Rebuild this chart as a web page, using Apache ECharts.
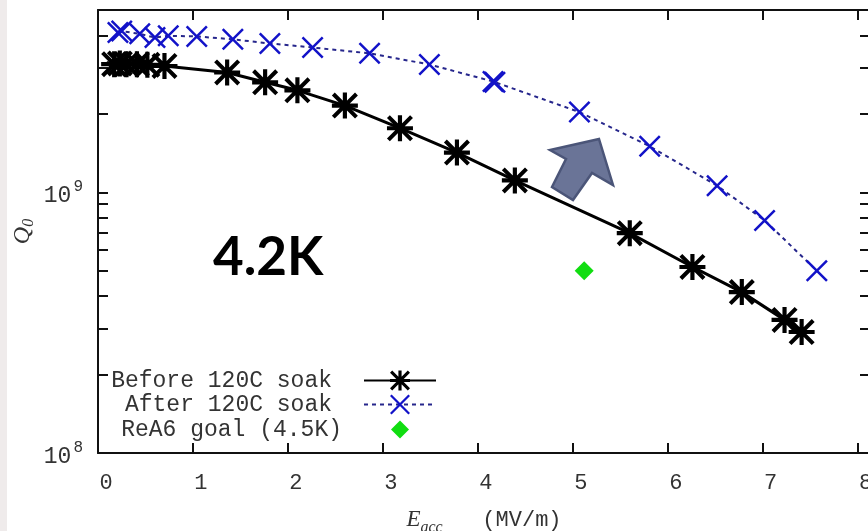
<!DOCTYPE html>
<html>
<head>
<meta charset="utf-8">
<script src="https://cdn.jsdelivr.net/npm/echarts@6/dist/echarts.min.js"></script>
<style>
  html, body { margin: 0; padding: 0; background: #fff; }
  #chart { width: 868px; height: 531px; }
</style>
</head>
<body>
<div id="chart"></div>
<script>
// Accelerating gradient (MV/m) and quality factor, before the 120C soak
const beforeE = [0.17, 0.23, 0.30, 0.41, 0.52, 0.70, 1.36, 1.76, 2.10, 2.60, 3.18, 3.78, 4.39, 5.60, 6.26, 6.78, 7.23, 7.41];
const beforeQ = [3.10e9, 3.12e9, 3.10e9, 3.10e9, 3.08e9, 3.05e9, 2.88e9, 2.64e9, 2.46e9, 2.15e9, 1.76e9, 1.42e9, 1.11e9, 6.97e8, 5.17e8, 4.14e8, 3.24e8, 2.91e8];

// ... and after the 120C soak
const afterE = [0.21, 0.25, 0.44, 0.60, 0.74, 1.04, 1.42, 1.81, 2.26, 2.86, 3.49, 4.16, 4.18, 5.07, 5.81, 6.52, 7.02, 7.57];
const afterQ = [4.10e9, 4.15e9, 4.05e9, 3.92e9, 3.98e9, 3.96e9, 3.86e9, 3.72e9, 3.59e9, 3.41e9, 3.09e9, 2.66e9, 2.64e9, 2.03e9, 1.50e9, 1.06e9, 7.80e8, 5.00e8];

// ReA6 target point (4.5 K)
const goalE = [5.12];
const goalQ = [5.0e8];

// Axis ticks
const xTicks = [0, 1, 2, 3, 4, 5, 6, 7, 8];
const yLabelTicks = [1e8, 1e9];
const yAllTicks = [1e8, 2e8, 3e8, 4e8, 5e8, 6e8, 7e8, 8e8, 9e8, 1e9, 2e9, 3e9, 4e9, 5e9];

const seriesNames = ['Before 120C soak', 'After 120C soak', 'ReA6 goal (4.5K)'];

// Marker shapes (filled outlines so they scale with symbolSize)
const ASTERISK = 'path://M0 42L100 42L100 58L0 58Z M42 0L58 0L58 100L42 100Z M11 0L100 89L89 100L0 11Z M89 0L100 11L11 100L0 89Z';
const CROSS = 'path://M8 0L100 92L92 100L0 8Z M92 0L100 8L8 100L0 92Z';
const DIAMOND_PAD = 'path://M0 0L0 0M100 100L100 100M50 14L86 50L50 86L14 50Z';

const MONO = '"Liberation Mono", "DejaVu Sans Mono", monospace';
const TXT = '#333';

const pairs = (xs, ys) => xs.map((x, i) => [x, ys[i]]);

const chart = echarts.init(document.getElementById('chart'), null, { renderer: 'canvas' });

const tickStyle = { lineStyle: { color: '#111', width: 2 } };

const option = {
  animation: false,
  backgroundColor: '#fff',
  title: {
    text: '4.2K',
    left: 208,
    top: 226,
    textStyle: { fontFamily: 'Lato, "Liberation Sans", sans-serif', fontWeight: 'bold', fontSize: 53, color: '#000' }
  },
  grid: { left: 98, right: -2, top: 10, bottom: 78, containLabel: false, outerBoundsMode: 'none' },
  xAxis: [
    {
      type: 'value', position: 'bottom', min: 0, max: 8.13, interval: 1,
      axisLine: { show: true, onZero: false, lineStyle: { color: '#111', width: 2 } },
      axisTick: Object.assign({ inside: true, length: 10, customValues: xTicks }, tickStyle),
      axisLabel: {
        customValues: xTicks,
        fontFamily: MONO, fontSize: 22, color: TXT, margin: 19, padding: [0, 0, 0, 16],
        formatter: v => String(v)
      },
      splitLine: { show: false },
      name: '{e|E}{s|acc}{u|   (MV/m)}',
      nameLocation: 'middle', nameGap: 51,
      nameTextStyle: {
        rich: {
          e: { fontFamily: '"Liberation Serif", serif', fontStyle: 'italic', fontSize: 23, color: TXT },
          s: { fontFamily: '"Liberation Serif", serif', fontStyle: 'italic', fontSize: 16, color: TXT, padding: [16, 0, 0, 0] },
          u: { fontFamily: MONO, fontSize: 22, color: TXT }
        }
      }
    },
    {
      type: 'value', position: 'top', min: 0, max: 8.13, interval: 1,
      axisLine: { show: true, onZero: false, lineStyle: { color: '#111', width: 2 } },
      axisTick: Object.assign({ inside: true, length: 10, customValues: xTicks }, tickStyle),
      axisLabel: { show: false },
      splitLine: { show: false }
    }
  ],
  yAxis: [
    {
      type: 'log', logBase: 10, position: 'left', min: 1e8, max: 5e9,
      axisLine: { show: true, onZero: false, lineStyle: { color: '#111', width: 2 } },
      axisTick: Object.assign({ inside: true, length: 10, customValues: yAllTicks }, tickStyle),
      axisLabel: {
        customValues: yLabelTicks,
        margin: 15,
        formatter: v => '{b|10}{s|' + Math.round(Math.log10(v)) + '}',
        rich: {
          b: { fontFamily: MONO, fontSize: 23, color: TXT, padding: [8, 2, 0, 0] },
          s: { fontFamily: MONO, fontSize: 16, color: TXT, padding: [0, 0, 10, 0] }
        }
      },
      splitLine: { show: false },
      name: '{q|Q}{s|0}',
      nameLocation: 'middle', nameRotate: 90, nameGap: 61, nameMoveOverlap: false,
      nameTextStyle: {
        rich: {
          q: { fontFamily: '"Liberation Serif", serif', fontStyle: 'italic', fontSize: 24, color: TXT },
          s: { fontFamily: '"Liberation Serif", serif', fontStyle: 'italic', fontSize: 16, color: TXT, padding: [12, 0, 0, 0] }
        }
      }
    },
    {
      type: 'log', logBase: 10, position: 'right', min: 1e8, max: 5e9,
      axisLine: { show: true, onZero: false, lineStyle: { color: '#111', width: 2 } },
      axisTick: Object.assign({ inside: true, length: 10, customValues: yAllTicks }, tickStyle),
      axisLabel: { show: false },
      splitLine: { show: false }
    }
  ],
  legend: {
    orient: 'vertical', align: 'right',
    right: 431, top: 369, padding: 0,
    itemWidth: 72, itemHeight: 25, itemGap: 1,
    selectedMode: false,
    data: [
      { name: seriesNames[0] },
      { name: seriesNames[1] },
      { name: seriesNames[2], icon: DIAMOND_PAD }
    ],
    formatter: name => (name === seriesNames[2] ? '{g|' : '{t|') + name + '}',
    textStyle: {
      fontFamily: MONO, fontSize: 23, color: TXT,
      rich: {
        t: { fontFamily: MONO, fontSize: 23, color: TXT, lineHeight: 25, padding: [0, 27, 0, 0] },
        g: { fontFamily: MONO, fontSize: 23, color: TXT, lineHeight: 25, padding: [0, 17, 0, 0] }
      }
    }
  },
  series: [
    {
      name: seriesNames[1], type: 'line',
      xAxisIndex: 0, yAxisIndex: 0,
      data: pairs(afterE, afterQ),
      symbol: CROSS, symbolSize: 22,
      itemStyle: { color: '#1212c8' },
      lineStyle: { color: '#26268c', width: 2, type: [4, 4] },
      emphasis: { disabled: true }, z: 2
    },
    {
      name: seriesNames[0], type: 'line',
      xAxisIndex: 0, yAxisIndex: 0,
      data: pairs(beforeE, beforeQ),
      symbol: ASTERISK, symbolSize: 26,
      itemStyle: { color: '#000' },
      lineStyle: { color: '#000', width: 3 },
      emphasis: { disabled: true }, z: 3
    },
    {
      name: seriesNames[2], type: 'scatter',
      xAxisIndex: 0, yAxisIndex: 0,
      data: pairs(goalE, goalQ),
      symbol: 'diamond', symbolSize: 19,
      itemStyle: { color: '#11dd11', opacity: 1 },
      emphasis: { disabled: true }, z: 3
    }
  ],
  graphic: [
    {
      type: 'rect', left: 0, top: 0, z: -10,
      shape: { x: 0, y: 0, width: 7, height: 531 },
      style: { fill: '#efebeb' }
    },
    {
      // block arrow pointing up and to the right
      type: 'polygon', z: 10,
      shape: { points: [[599, 139], [613, 185], [592, 173], [573, 200], [552, 187], [566, 159], [550, 150]] },
      style: { fill: '#6a7497', stroke: '#4b5578', lineWidth: 2.5, lineJoin: 'miter' }
    }
  ]
};

chart.setOption(option);
</script>
</body>
</html>
